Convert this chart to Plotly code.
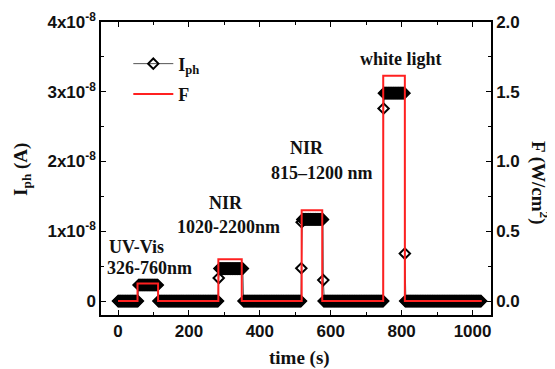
import plotly.graph_objects as go

# ---- data ----
# photocurrent plateaus: start time (s), end time (s), level (x1e-8 A)
plateau_t0 = [0, 58, 114, 286, 354, 520, 580, 750, 810]
plateau_t1 = [56, 112, 282, 352, 516, 578, 748, 808, 1024]
plateau_lvl = [0, 0.23, 0, 0.465, 0, 1.17, 0, 2.98, 0]
sample_step = 2  # s, acquisition interval

# isolated points on the rising / falling edges
edge_t = [284, 517, 518, 579, 749, 809]
edge_lvl = [0.33, 0.47, 1.13, 0.30, 2.76, 0.68]

# light intensity steps (W/cm^2)
F_t = [0, 55, 113, 283, 349, 518, 576, 748, 809, 1026]
F_lvl = [0, 0.125, 0, 0.30, 0, 0.65, 0, 1.615, 0, 0]

x_ticks = [0, 200, 400, 600, 800, 1000]
y1_tickvals = [0, 1e-8, 2e-8, 3e-8, 4e-8]
y1_ticktext = ["0", "1x10<sup>-8</sup>", "2x10<sup>-8</sup>", "3x10<sup>-8</sup>", "4x10<sup>-8</sup>"]
y2_tickvals = [0.0, 0.5, 1.0, 1.5, 2.0]
y2_ticktext = ["0.0", "0.5", "1.0", "1.5", "2.0"]

labels = ["UV-Vis", "326-760nm", "NIR", "1020-2200nm", "NIR", "815\u20131200 nm", "white light"]
label_x = [51, 88, 305, 313, 533, 575, 798]
label_y = [0.78e-8, 0.47e-8, 1.40e-8, 1.06e-8, 2.19e-8, 1.83e-8, 3.47e-8]

# ---- build photocurrent series ----
pts = []
for t0, t1, lv in zip(plateau_t0, plateau_t1, plateau_lvl):
    t = t0
    while t <= t1:
        pts.append((t, lv * 1e-8))
        t += sample_step
for t, lv in zip(edge_t, edge_lvl):
    pts.append((t, lv * 1e-8))
pts.sort(key=lambda p: p[0])
I_t = [p[0] for p in pts]
I_v = [p[1] for p in pts]

serif = "Liberation Serif"
sans = "Liberation Sans"
ink = "#111111"

fig = go.Figure()
fig.add_trace(go.Scatter(
    x=I_t, y=I_v, mode="lines+markers", name="I<sub>ph</sub>",
    line=dict(color="#555555", width=1),
    marker=dict(symbol="diamond-open", size=8, color="black",
                line=dict(color="black", width=2)),
    legendgroup="a",
))
fig.add_trace(go.Scatter(
    x=F_t, y=F_lvl, mode="lines", name="F", yaxis="y2",
    line=dict(color="#ff2020", width=2, shape="hv"),
    legendgroup="b",
))

for txt, x, y in zip(labels, label_x, label_y):
    fig.add_annotation(x=x, y=y, xref="x", yref="y", text=txt, showarrow=False,
                       font=dict(family=serif, size=18, color=ink, weight="bold"))

# axis titles
title_font = dict(family=serif, size=19, color=ink, weight="bold")
fig.add_annotation(x=0.51, y=-0.147, xref="paper", yref="paper", text="time (s)",
                   showarrow=False, xanchor="center", yanchor="middle", font=title_font)
fig.add_annotation(x=-0.203, y=0.498, xref="paper", yref="paper", text="I<sub>ph</sub> (A)",
                   showarrow=False, textangle=-90, xanchor="center", yanchor="middle",
                   font=title_font)
fig.add_annotation(x=1.126, y=0.45, xref="paper", yref="paper", text="F (W/cm<sup>2</sup>)",
                   showarrow=False, textangle=90, xanchor="center", yanchor="middle",
                   font=title_font)

tickfont = dict(family=sans, size=17, color=ink, weight="bold")
# the page body adds an 8 px margin, so the figure is 8 px smaller on each side
fig.update_layout(
    width=547, height=361,
    margin=dict(l=93, r=64, t=14, b=54, autoexpand=False),
    paper_bgcolor="white", plot_bgcolor="white",
    showlegend=True,
    legend=dict(x=0.07, y=0.92, xanchor="left", yanchor="top",
                bgcolor="rgba(0,0,0,0)", itemwidth=40, tracegroupgap=4,
                font=dict(family=serif, size=18, color=ink, weight="bold")),
    xaxis=dict(range=[-48, 1052], tickvals=x_ticks, ticks="inside", ticklen=5,
               tickwidth=1.3, tickcolor="black", showline=True, linecolor="black",
               linewidth=1.5, mirror="ticks", showgrid=False, zeroline=False,
               tickfont=tickfont,
               minor=dict(ticks="inside", ticklen=3, dtick=100, tickcolor="black",
                          showgrid=False)),
    yaxis=dict(range=[-0.2e-8, 4e-8], tickvals=y1_tickvals, ticktext=y1_ticktext,
               ticks="inside", ticklen=5, tickwidth=1.3, tickcolor="black",
               showline=True, linecolor="black", linewidth=1.5, showgrid=False,
               zeroline=False, tickfont=tickfont,
               minor=dict(ticks="inside", ticklen=3, tickvals=[0.5e-8, 1.5e-8, 2.5e-8, 3.5e-8],
                          tickcolor="black", showgrid=False)),
    yaxis2=dict(range=[-0.1, 2.0], overlaying="y", side="right",
                tickvals=y2_tickvals, ticktext=y2_ticktext,
                ticks="inside", ticklen=5, tickwidth=1.3, tickcolor="black",
                showline=True, linecolor="black", linewidth=1.5, showgrid=False,
                zeroline=False, tickfont=tickfont,
                minor=dict(ticks="inside", ticklen=3, tickvals=[0.25, 0.75, 1.25, 1.75],
                           tickcolor="black", showgrid=False)),
)

fig.write_html("out.html")
